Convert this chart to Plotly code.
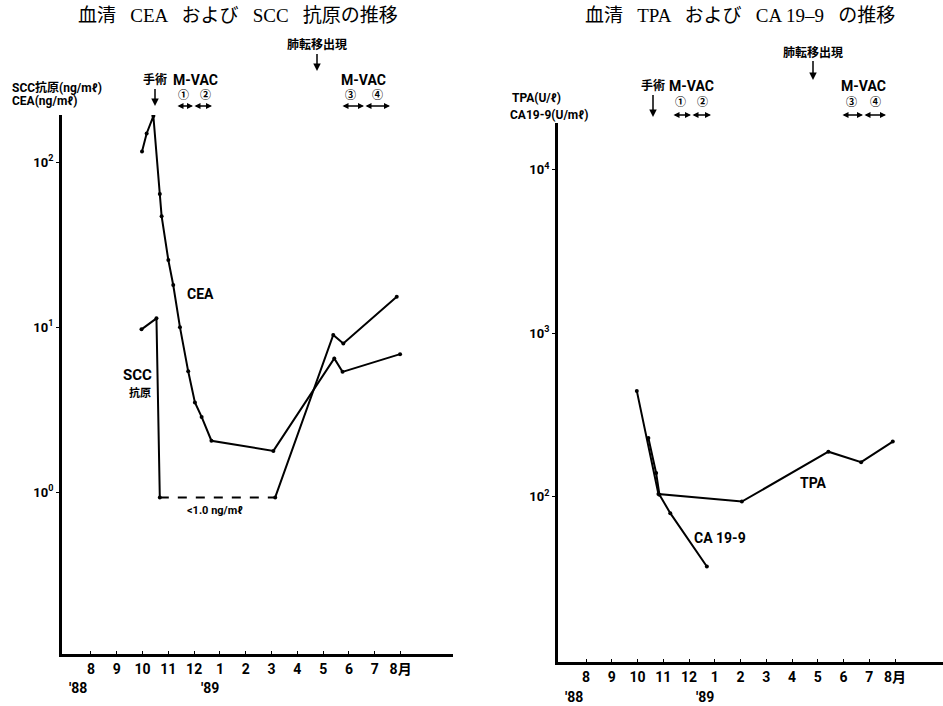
import plotly.graph_objects as go

W, H = 943, 706

# ---------------- data ----------------
# x = month index: 8 = Aug 1988, 13 = Jan 1989, 20 = Aug 1989
month_ticks = [8, 9, 10, 11, 12, 13, 14, 15, 16, 17, 18, 19, 20]
month_labels = ["8", "9", "10", "11", "12", "1", "2", "3", "4", "5", "6", "7", "8月"]

cea_month = [9.98, 10.16, 10.42, 10.67, 10.74, 11.0, 11.19, 11.45, 11.77, 12.03, 12.29, 12.67, 15.07, 17.43, 17.75, 19.98]
cea_val = [116, 149, 190, 64, 47, 25.5, 18, 10, 5.4, 3.5, 2.86, 2.05, 1.78, 6.46, 5.36, 6.86]

scc_month_a = [9.96, 10.54, 10.67]
scc_val_a = [9.7, 11.3, 0.93]
scc_month_b = [10.67, 15.14]          # below detection (<1.0 ng/ml), dashed
scc_val_b = [0.93, 0.93]
scc_month_c = [15.14, 17.39, 17.78, 19.85]
scc_val_c = [0.93, 8.96, 7.96, 15.3]

tpa_month = [9.97, 10.81, 14.05, 17.41, 18.68, 19.91]
tpa_val = [445, 104, 93.6, 189, 163, 218]
ca_month = [10.42, 10.72, 10.85, 11.27, 12.69]
ca_val = [229, 140, 103, 79.5, 37.5]

left_yticks = [1, 10, 100]
left_ylabels = ["10<sup>0</sup>", "10<sup>1</sup>", "10<sup>2</sup>"]
right_yticks = [100, 1000, 10000]
right_ylabels = ["10<sup>2</sup>", "10<sup>3</sup>", "10<sup>4</sup>"]

# ---------------- style ----------------
LBL = "Liberation Sans Narrow, Roboto, Liberation Sans, Noto Sans CJK JP"
SERIF = "Liberation Serif, DejaVu Serif, Noto Sans CJK JP"


def px(x):
    return x / W


def py(y):
    return 1 - y / H


def bold(lst):
    return [f"<b>{s}</b>" for s in lst]


line = dict(color="black", width=2)
mk = dict(color="black", size=4)

fig = go.Figure()
fig.add_trace(go.Scatter(x=cea_month, y=cea_val, mode="lines+markers", line=line, marker=mk, xaxis="x", yaxis="y"))
fig.add_trace(go.Scatter(x=scc_month_a, y=scc_val_a, mode="lines+markers", line=line, marker=mk, xaxis="x", yaxis="y"))
fig.add_trace(go.Scatter(x=scc_month_b, y=scc_val_b, mode="lines", line=dict(color="black", width=2, dash="dash"), xaxis="x", yaxis="y"))
fig.add_trace(go.Scatter(x=scc_month_c, y=scc_val_c, mode="lines+markers", line=line, marker=mk, xaxis="x", yaxis="y"))
fig.add_trace(go.Scatter(x=tpa_month, y=tpa_val, mode="lines+markers", line=line, marker=mk, xaxis="x2", yaxis="y2"))
fig.add_trace(go.Scatter(x=ca_month, y=ca_val, mode="lines+markers", line=line, marker=mk, xaxis="x2", yaxis="y2"))

xcommon = dict(tickmode="array", tickvals=month_ticks, ticktext=bold(month_labels),
               showline=True, linecolor="black", linewidth=3, showgrid=False, zeroline=False,
               ticks="inside", ticklen=3, tickcolor="black",
               tickfont=dict(family=LBL, size=14, color="black"))
ycommon = dict(type="log", showline=True, linecolor="black", linewidth=3, showgrid=False, zeroline=False,
               ticks="outside", ticklen=3, tickcolor="black",
               tickfont=dict(family=LBL, size=13, color="black"))

fig.update_layout(
    width=W, height=H, margin=dict(l=0, r=0, t=0, b=0),
    paper_bgcolor="white", plot_bgcolor="white", showlegend=False,
    xaxis=dict(domain=[px(62), px(453)], range=[6.88, 22.03], anchor="y", **xcommon),
    yaxis=dict(domain=[py(654), py(115)], range=[-0.98, 2.285], anchor="x",
               tickmode="array", tickvals=left_yticks, ticktext=bold(left_ylabels), **ycommon),
    xaxis2=dict(domain=[px(558), 1.0], range=[6.91, 21.86], anchor="y2", **xcommon),
    yaxis2=dict(domain=[py(662), py(123)], range=[0.99, 4.287], anchor="x2",
                tickmode="array", tickvals=right_yticks, ticktext=bold(right_ylabels), **ycommon),
)

ann = []


def text(x, y, s, size=13, family=LBL, isbold=True, xanchor="center"):
    ann.append(dict(x=px(x), y=py(y), xref="paper", yref="paper", text=(f"<b>{s}</b>" if isbold else s),
                    showarrow=False, xanchor=xanchor, yanchor="middle",
                    font=dict(family=family, size=size, color="black")))


def down_arrow(x, ytext, ytip, s, size=12):
    ann.append(dict(x=px(x), y=py(ytip), xref="paper", yref="paper", text=f"<b>{s}</b>",
                    showarrow=True, ax=0, ay=-(ytip - ytext), arrowhead=2, arrowsize=1, arrowwidth=1.5,
                    arrowcolor="black", font=dict(family=LBL, size=size, color="black")))


def dbl_arrow(x0, x1, y):
    ann.append(dict(x=px(x1), y=py(y), xref="paper", yref="paper", text="",
                    showarrow=True, ax=-(x1 - x0), ay=0, arrowhead=2, startarrowhead=2,
                    arrowside="end+start", arrowsize=0.8, startarrowsize=0.8, arrowwidth=1.5,
                    arrowcolor="black"))


SP = " \u2002"
# titles
text(238, 16, f"血清{SP}CEA{SP}および{SP}SCC{SP}抗原の推移", size=19, family=SERIF, isbold=False)
text(740, 16, f"血清{SP}TPA{SP}および{SP}CA 19–9{SP}の推移", size=19, family=SERIF, isbold=False)

# ---- left panel annotations ----
text(10, 87, "SCC抗原(ng/mℓ)", size=12, xanchor="left")
text(10, 101, "CEA(ng/mℓ)", size=12, xanchor="left")
down_arrow(155, 80, 106, "手術")
text(195, 80, "M-VAC", size=14)
text(183, 96, "①", size=11)
text(205, 96, "②", size=11)
dbl_arrow(176, 193, 106)
dbl_arrow(193, 212, 106)
down_arrow(317, 45, 71, "肺転移出現")
text(363, 80, "M-VAC", size=14)
text(350, 96, "③", size=11)
text(377, 96, "④", size=11)
dbl_arrow(341, 364, 106)
dbl_arrow(364, 390, 106)
text(200, 294, "CEA", size=14)
text(137, 375, "SCC", size=15)
text(140, 393, "抗原", size=11)
text(215, 511, "<1.0 ng/mℓ", size=11)
text(78, 688, "'88", size=14)
text(210, 688, "'89", size=14)

# ---- right panel annotations ----
text(510, 98, "TPA(U/ℓ)", size=12, xanchor="left")
text(508, 115, "CA19-9(U/mℓ)", size=12, xanchor="left")
down_arrow(653, 86, 117, "手術")
text(691, 86, "M-VAC", size=14)
text(680, 103, "①", size=11)
text(702, 103, "②", size=11)
dbl_arrow(672, 691, 115)
dbl_arrow(691, 711, 115)
down_arrow(813, 52, 80, "肺転移出現")
text(863, 86, "M-VAC", size=14)
text(851, 103, "③", size=11)
text(875, 103, "④", size=11)
dbl_arrow(841, 863, 115)
dbl_arrow(863, 886, 115)
text(813, 483, "TPA", size=14)
text(720, 538, "CA 19-9", size=14)
text(574, 697, "'88", size=14)
text(705, 697, "'89", size=14)

fig.update_layout(annotations=ann)
fig.write_html("out.html", config={"displayModeBar": False},
               post_script="document.body.style.margin='0';document.body.style.overflow='hidden';")
